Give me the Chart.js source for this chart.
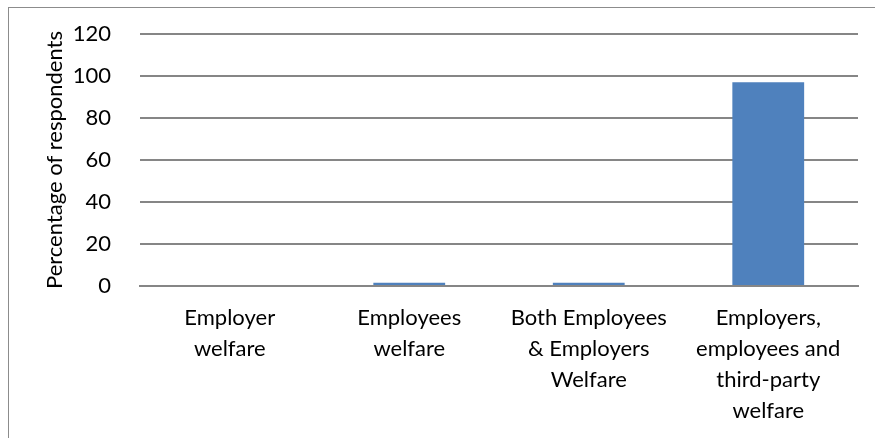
<!DOCTYPE html>
<html lang="en">
<head>
  <meta charset="UTF-8">
  <title>Percentage of respondents</title>
  <script src="https://cdn.jsdelivr.net/npm/chart.js"></script>
  <style>
    html, body { margin: 0; padding: 0; background: #fff; }
    #wrap { width: 875px; height: 438px; }
  </style>
</head>
<body>
  <div id="wrap">
    <canvas id="welfareChart" width="875" height="438"></canvas>
  </div>

  <script>
    // data
    const categories = [
      ['Employer', 'welfare'],
      ['Employees', 'welfare'],
      ['Both Employees', '& Employers', 'Welfare'],
      ['Employers,', 'employees and', 'third-party', 'welfare']
    ];
    const percentages = [0, 1.5, 1.5, 97];
    const yTicks = [0, 20, 40, 60, 80, 100, 120];

    const fontFamily = 'Lato, "Liberation Sans", sans-serif';

    // grey frame round the whole chart (right/bottom edges fall off the picture)
    const outerFrame = {
      id: 'outerFrame',
      beforeDraw(chart) {
        const c = chart.ctx;
        c.save();
        c.strokeStyle = '#8c8c8c';
        c.lineWidth = 1;
        c.strokeRect(8.5, 7.5, 900, 500);
        c.restore();
      }
    };

    const ctx = document.getElementById('welfareChart').getContext('2d');
    new Chart(ctx, {
      type: 'bar',
      data: {
        labels: categories,
        datasets: [{
          label: 'Percentage of respondents',
          data: percentages,
          backgroundColor: '#4f81bd',
          borderWidth: 0,
          categoryPercentage: 1,
          barPercentage: 0.4
        }]
      },
      options: {
        responsive: false,
        animation: false,
        layout: { padding: { left: 0, top: 34, right: 17, bottom: 0 } },
        plugins: { legend: { display: false }, tooltip: { enabled: false } },
        scales: {
          x: {
            grid: { display: false, drawTicks: false },
            border: { color: '#868686', width: 2 },
            ticks: {
              color: '#000',
              padding: 16,
              maxRotation: 0,
              autoSkip: false,
              font: { family: fontFamily, size: 22, lineHeight: 1.41 }
            },
            afterFit(scale) { scale.height = 152; }
          },
          y: {
            min: 0,
            max: 120,
            afterBuildTicks(scale) { scale.ticks = yTicks.map(v => ({ value: v })); },
            grid: { color: '#868686', lineWidth: 2, drawTicks: false },
            border: { display: false },
            ticks: {
              color: '#000',
              padding: 29,
              font: { family: fontFamily, size: 22 }
            },
            title: {
              display: true,
              text: 'Percentage of respondents',
              color: '#000',
              padding: { top: 42, bottom: 0 },
              font: { family: fontFamily, size: 22 }
            },
            afterFit(scale) {
              scale.width = 140;
              scale.paddingTop = 0;
              scale.paddingBottom = 0;
            }
          }
        }
      },
      plugins: [outerFrame]
    });
  </script>
</body>
</html>
